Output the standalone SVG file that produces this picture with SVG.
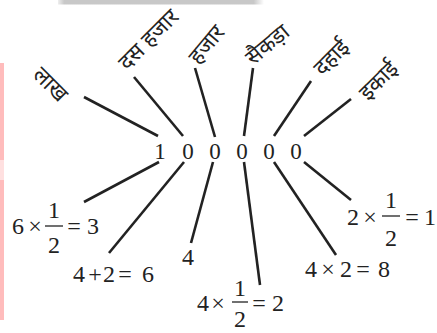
<svg xmlns="http://www.w3.org/2000/svg" width="437" height="333" viewBox="0 0 437 333">
<style>
.ln{stroke:#222;stroke-width:2.6;stroke-linecap:butt;fill:none}
.d{font-family:"Liberation Serif","Times New Roman",serif;font-size:23px;fill:#222;text-anchor:middle}
.m{font-family:"Liberation Serif","Times New Roman",serif;font-size:24px;fill:#222;text-anchor:middle}
.h{font-family:"Noto Sans Devanagari","Lohit Devanagari","Noto Sans",sans-serif;font-size:22px;fill:#222;text-anchor:middle}
.bar{stroke:#222;stroke-width:1.3}
</style>
<defs>
<linearGradient id="gb" x1="0" x2="1" y1="0" y2="0">
<stop offset="0" stop-color="#c8c8c8" stop-opacity="0.3"/>
<stop offset="0.03" stop-color="#c8c8c8"/>
<stop offset="0.95" stop-color="#c8c8c8"/>
<stop offset="1" stop-color="#c8c8c8" stop-opacity="0"/>
</linearGradient>
</defs>
<rect width="437" height="333" fill="#fff"/>
<rect x="58" y="0" width="206" height="4.5" fill="url(#gb)"/>
<rect x="0" y="63" width="4" height="97" fill="#ffbcbc"/>
<rect x="0" y="160" width="4" height="20" fill="#ffe0e0"/>
<rect x="0" y="180" width="4" height="140" fill="#ffbcbc"/>

<g id="connectors">
<line class="ln" x1="84" y1="97" x2="158" y2="136"/>
<line class="ln" x1="134" y1="77" x2="183" y2="136"/>
<line class="ln" x1="195" y1="68" x2="215" y2="137"/>
<line class="ln" x1="253" y1="68" x2="244" y2="136"/>
<line class="ln" x1="311" y1="81" x2="274" y2="136"/>
<line class="ln" x1="351" y1="99" x2="304" y2="136"/>
<line class="ln" x1="84" y1="202" x2="159" y2="162"/>
<line class="ln" x1="109" y1="253" x2="184" y2="162"/>
<line class="ln" x1="191" y1="243" x2="213" y2="162"/>
<line class="ln" x1="244" y1="162" x2="260" y2="285"/>
<line class="ln" x1="274" y1="162" x2="336" y2="255"/>
<line class="ln" x1="304" y1="162" x2="351" y2="200"/>
</g>

<g id="number">
<text class="d" x="160" y="159">1</text>
<text class="d" x="188" y="159">0</text>
<text class="d" x="215" y="159">0</text>
<text class="d" x="242" y="159">0</text>
<text class="d" x="269" y="159">0</text>
<text class="d" x="296" y="159">0</text>
</g>

<g id="lakh"><text class="h" transform="translate(51,84) rotate(45)" x="0" y="8">लाख</text></g>
<g id="das-hazar"><text class="h" transform="translate(148,39) rotate(-45)" x="0" y="8">दस हजार</text></g>
<g id="hazar"><text class="h" transform="translate(206,44) rotate(-50)" x="0" y="8">हजार</text></g>
<g id="saikda"><text class="h" transform="translate(267,44) rotate(-40)" x="0" y="8">सैकड़ा</text></g>
<g id="dahai"><text class="h" transform="translate(331,57) rotate(-45)" x="0" y="8">दहाई</text></g>
<g id="ikai"><text class="h" transform="translate(378,80) rotate(-45)" x="0" y="8">इकाई</text></g>

<g id="calc-lakh">
<text class="m" x="18" y="234">6</text>
<text class="m" x="35" y="234">×</text>
<text class="m" x="54" y="218">1</text>
<line class="bar" x1="45" y1="226" x2="63" y2="226"/>
<text class="m" x="54" y="253">2</text>
<text class="m" x="74" y="234">=</text>
<text class="m" x="93" y="234">3</text>
</g>

<g id="calc-das-hazar">
<text class="m" x="79" y="282">4</text>
<text class="m" x="95" y="282">+</text>
<text class="m" x="109" y="282">2</text>
<text class="m" x="125" y="282">=</text>
<text class="m" x="148" y="282">6</text>
</g>

<g id="calc-hazar">
<text class="m" x="188" y="265">4</text>
</g>

<g id="calc-saikda">
<text class="m" x="203" y="311">4</text>
<text class="m" x="218" y="311">×</text>
<text class="m" x="240" y="296">1</text>
<line class="bar" x1="232" y1="302" x2="248" y2="302"/>
<text class="m" x="240" y="327">2</text>
<text class="m" x="259" y="311">=</text>
<text class="m" x="278" y="311">2</text>
</g>

<g id="calc-dahai">
<text class="m" x="311" y="277">4</text>
<text class="m" x="328" y="277">×</text>
<text class="m" x="346" y="277">2</text>
<text class="m" x="363" y="277">=</text>
<text class="m" x="384" y="277">8</text>
</g>

<g id="calc-ikai">
<text class="m" x="353" y="225">2</text>
<text class="m" x="370" y="225">×</text>
<text class="m" x="391" y="208">1</text>
<line class="bar" x1="382" y1="216" x2="400" y2="216"/>
<text class="m" x="391" y="246">2</text>
<text class="m" x="412" y="225">=</text>
<text class="m" x="430" y="225">1</text>
</g>
</svg>
